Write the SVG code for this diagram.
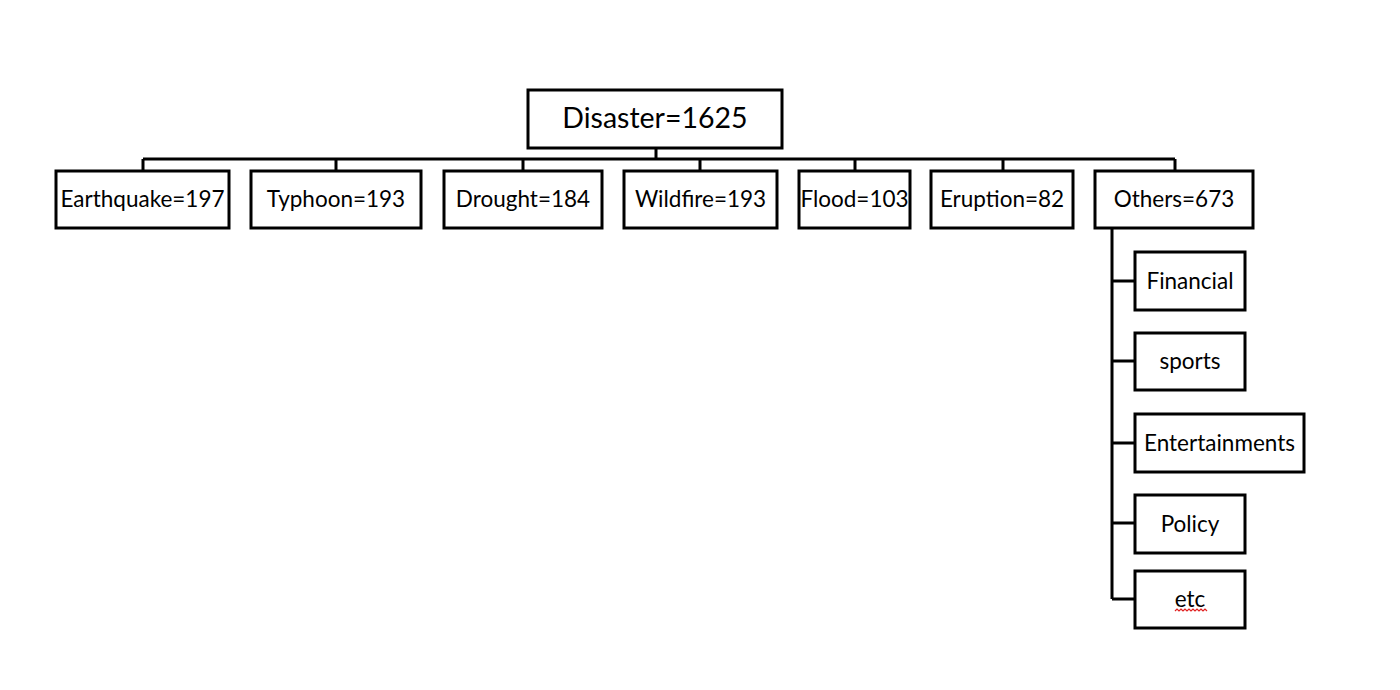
<svg xmlns="http://www.w3.org/2000/svg" width="1400" height="690" viewBox="0 0 1400 690">
<style>
.box{fill:#fff;stroke:#000;stroke-width:3}
.ln{fill:none;stroke:#000;stroke-width:3}
.t{font-family:Lato,"Open Sans","Liberation Sans",sans-serif;font-size:22.5px;fill:#000;text-anchor:middle;dominant-baseline:central}
.big{font-size:28.5px}
</style>
<rect width="1400" height="690" fill="#fff"/>
<g id="connectors">
<path class="ln" d="M656 148V159M143 159H1175M143 159V170M336 159V170M523 159V170M700 159V170M855 159V170M1003 159V170M1175 159V170"/>
<path class="ln" d="M1112 228V599M1112 281H1135M1112 361H1135M1112 443H1135M1112 523H1135M1112 599H1135"/>
</g>
<g id="disaster"><rect class="box" x="528" y="90" width="254" height="58"/><text class="t big" x="655" y="117">Disaster=1625</text></g>
<g id="earthquake"><rect class="box" x="56" y="171" width="173" height="57"/><text class="t" x="142.5" y="198">Earthquake=197</text></g>
<g id="typhoon"><rect class="box" x="251" y="171" width="170" height="57"/><text class="t" x="336" y="198">Typhoon=193</text></g>
<g id="drought"><rect class="box" x="444" y="171" width="158" height="57"/><text class="t" x="523" y="198">Drought=184</text></g>
<g id="wildfire"><rect class="box" x="624" y="171" width="153" height="57"/><text class="t" x="700.5" y="198">Wildfire=193</text></g>
<g id="flood"><rect class="box" x="799" y="171" width="111" height="57"/><text class="t" x="854.5" y="198">Flood=103</text></g>
<g id="eruption"><rect class="box" x="931" y="171" width="142" height="57"/><text class="t" x="1002" y="198">Eruption=82</text></g>
<g id="others"><rect class="box" x="1095" y="171" width="158" height="57"/><text class="t" x="1174" y="198">Others=673</text></g>
<g id="financial"><rect class="box" x="1135" y="252" width="110" height="58"/><text class="t" x="1190" y="280">Financial</text></g>
<g id="sports"><rect class="box" x="1135" y="333" width="110" height="57"/><text class="t" x="1190" y="360">sports</text></g>
<g id="entertainments"><rect class="box" x="1135" y="414" width="169" height="58"/><text class="t" x="1219.5" y="442">Entertainments</text></g>
<g id="policy"><rect class="box" x="1135" y="495" width="110" height="58"/><text class="t" x="1190" y="523">Policy</text></g>
<g id="etc"><rect class="box" x="1135" y="571" width="110" height="57"/><text class="t" x="1190" y="598">etc</text>
<path d="M1175 611l2 -2 2 2 2 -2 2 2 2 -2 2 2 2 -2 2 2 2 -2 2 2 2 -2 2 2 2 -2 2 2 2 -2 2 2" fill="none" stroke="#e02020" stroke-width="1.2"/></g>
</svg>
